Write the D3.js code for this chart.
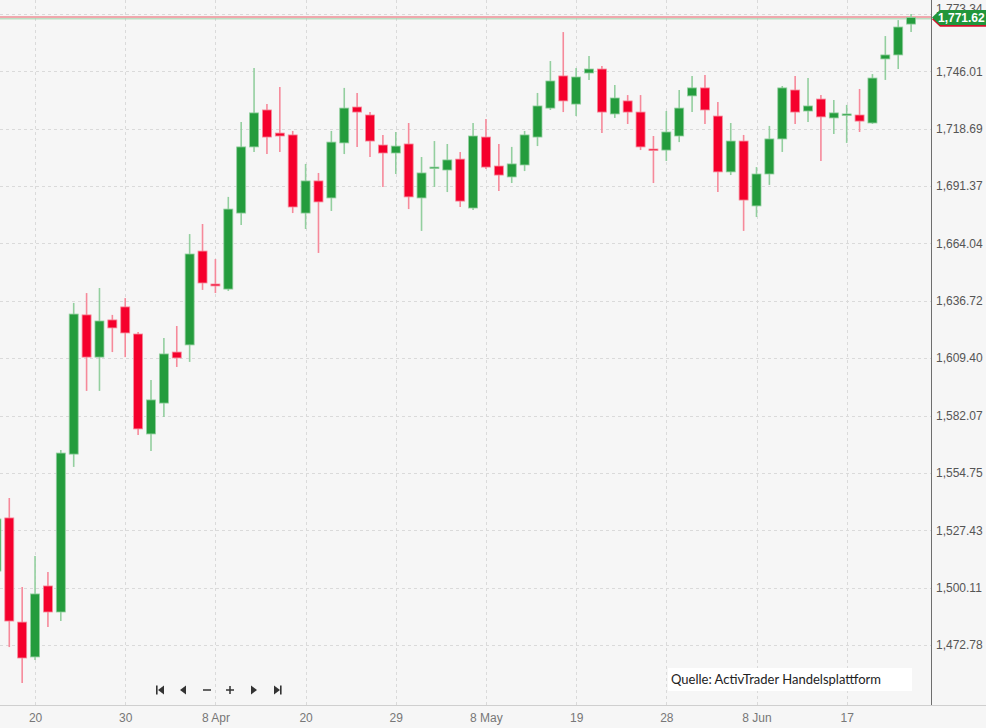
<!DOCTYPE html>
<html><head><meta charset="utf-8">
<script src="https://cdn.jsdelivr.net/npm/d3@7"></script>
<style>html,body{margin:0;padding:0;background:#f6f6f6;overflow:hidden}</style>
</head><body>
<svg id="chart" width="986" height="728"></svg>
<script>
// ---- data (one candle per trading session, index-based) ----
const opens  = [1508.0,1533.3,1483.7,1467.1,1500.9,1488.5,1563.7,1630.0,1609.9,1627.6,1633.8,1620.9,1573.3,1588.0,1612.3,1615.7,1660.4,1644.7,1642.3,1678.5,1710.0,1727.6,1716.6,1715.7,1678.5,1693.8,1685.7,1711.9,1729.0,1725.2,1710.9,1707.1,1711.4,1685.7,1700.0,1699.0,1704.2,1680.9,1714.7,1700.9,1695.7,1701.4,1714.7,1728.5,1743.8,1730.4,1745.2,1747.1,1725.7,1731.9,1726.6,1709.0,1708.5,1715.2,1734.3,1738.1,1724.7,1698.1,1712.8,1681.9,1697.1,1713.8,1737.1,1727.1,1732.8,1723.8,1725.2,1725.2,1721.4,1751.9,1753.8,1768.5];
const highs  = [1539.5,1542.8,1500.4,1515.2,1507.5,1565.7,1635.7,1640.4,1642.8,1630.0,1638.0,1621.9,1599.0,1619.0,1624.7,1668.5,1673.3,1656.6,1686.2,1721.9,1747.6,1730.4,1738.5,1717.6,1701.9,1697.6,1717.6,1738.1,1735.7,1726.6,1715.7,1717.1,1721.4,1705.2,1712.8,1711.4,1707.6,1721.4,1723.3,1711.4,1710.0,1717.6,1735.7,1750.9,1764.7,1747.6,1753.3,1748.5,1739.5,1734.7,1734.7,1715.2,1727.1,1737.1,1743.8,1744.3,1731.4,1721.4,1715.7,1700.4,1720.0,1739.0,1743.8,1742.8,1734.7,1732.3,1730.0,1737.6,1744.7,1762.8,1770.4,1773.3];
const lows   = [1504.7,1471.8,1454.7,1465.6,1481.4,1484.2,1557.6,1593.8,1593.8,1612.3,1609.9,1572.8,1565.2,1581.4,1605.2,1607.6,1641.9,1640.4,1641.4,1672.8,1707.6,1706.6,1707.6,1678.5,1670.9,1659.5,1679.5,1706.6,1710.0,1705.2,1690.9,1697.1,1680.4,1670.0,1690.9,1688.5,1681.4,1680.0,1699.5,1689.0,1692.8,1698.5,1710.4,1727.6,1726.6,1724.7,1741.9,1716.6,1723.8,1720.9,1708.5,1692.8,1703.3,1712.3,1726.6,1720.9,1688.5,1696.6,1670.0,1676.6,1691.9,1707.6,1720.9,1721.9,1703.3,1716.2,1711.9,1717.1,1720.9,1741.9,1747.1,1764.7];
const closes = [1532.8,1484.2,1466.6,1497.1,1488.5,1564.2,1630.4,1609.9,1627.1,1623.8,1621.4,1575.7,1589.5,1611.4,1609.5,1659.0,1645.2,1643.8,1680.4,1710.0,1726.2,1714.7,1715.2,1681.4,1693.8,1683.8,1712.3,1728.5,1726.6,1712.8,1707.1,1710.4,1686.2,1697.6,1700.4,1703.8,1684.2,1715.2,1700.4,1696.6,1701.9,1715.7,1729.5,1741.4,1731.9,1743.3,1747.1,1726.6,1733.3,1726.6,1710.0,1708.5,1717.1,1728.5,1738.1,1727.6,1698.1,1712.8,1684.7,1697.1,1713.8,1738.1,1726.6,1729.5,1724.3,1726.2,1725.7,1722.3,1742.8,1753.8,1767.1,1771.62];
const yTickValues = [1472.78,1500.11,1527.43,1554.75,1582.07,1609.40,1636.72,1664.04,1691.37,1718.69,1746.01,1773.34];
const xTickIndex  = [3,10,17,24,31,38,45,52,59,66];
const xTickLabels = ["20","30","8 Apr","20","29","8 May","19","28","8 Jun","17"];
const lastPrice = 1771.62;
const sourceText = "Quelle: ActivTrader Handelsplattform";

// ---- layout ----
const W = 986, H = 728, plotR = 931, plotB = 705;
const GREEN = "#249c3d", RED = "#f5002c";
const GREEN_W = "#93cf9f", RED_W = "#f6899a";

const svg = d3.select("#chart");
svg.append("rect").attr("width", W).attr("height", H).attr("fill", "#f6f6f6");

const idx = d3.range(opens.length);
const x = d3.scalePoint().domain(idx).range([-3.6, 911.1]);
const y = d3.scaleLinear().domain([1444.21, 1779.97]).range([plotB, 0]);

svg.append("clipPath").attr("id", "clip").append("rect")
  .attr("x", 0).attr("y", 0).attr("width", plotR).attr("height", plotB);

const grid = svg.append("g").attr("clip-path", "url(#clip)");
grid.selectAll("line.h").data(yTickValues).join("line")
  .attr("x1", 0).attr("x2", plotR)
  .attr("y1", d => Math.round(y(d)) + 0.5).attr("y2", d => Math.round(y(d)) + 0.5)
  .attr("stroke", "#dadada").attr("stroke-dasharray", "3,3");
grid.selectAll("line.v").data(xTickIndex).join("line")
  .attr("x1", d => Math.round(x(d)) + 0.5).attr("x2", d => Math.round(x(d)) + 0.5)
  .attr("y1", 0).attr("y2", plotB)
  .attr("stroke", "#dadada").attr("stroke-dasharray", "3,3");

// price lines
const yP = y(lastPrice);
grid.append("line").attr("x1", 0).attr("x2", plotR).attr("y1", yP - 0.5).attr("y2", yP - 0.5)
  .attr("stroke", "#ee8c94").attr("stroke-width", 1.5);
grid.append("line").attr("x1", 0).attr("x2", plotR).attr("y1", yP + 1.3).attr("y2", yP + 1.3)
  .attr("stroke", "#9fd2a8").attr("stroke-width", 1);

// candles
const candles = svg.append("g").attr("clip-path", "url(#clip)");
const cg = candles.selectAll("g.c").data(idx).join("g");
cg.append("line")
  .attr("x1", i => x(i)).attr("x2", i => x(i))
  .attr("y1", i => y(highs[i])).attr("y2", i => y(lows[i]))
  .attr("stroke", i => closes[i] >= opens[i] ? GREEN_W : RED_W)
  .attr("stroke-width", 1.6);
cg.append("rect")
  .attr("x", i => x(i) - 4.5).attr("width", 9)
  .attr("y", i => y(Math.max(opens[i], closes[i])))
  .attr("height", i => Math.max(1.5, Math.abs(y(opens[i]) - y(closes[i]))))
  .attr("fill", i => closes[i] >= opens[i] ? GREEN : RED)
  .attr("stroke", i => closes[i] >= opens[i] ? GREEN_W : RED_W)
  .attr("stroke-width", 0.8);

// axes lines
svg.append("line").attr("x1", 0).attr("x2", W).attr("y1", plotB + 0.5).attr("y2", plotB + 0.5)
  .attr("stroke", "#cfcfcf");
svg.append("line").attr("x1", plotR + 0.5).attr("x2", plotR + 0.5).attr("y1", 0).attr("y2", plotB)
  .attr("stroke", "#6e6e6e");

// y axis labels
const yAxis = d3.axisRight(y).tickValues(yTickValues).tickSize(0).tickPadding(5)
  .tickFormat(d3.format(",.2f"));
const ya = svg.append("g").attr("transform", `translate(${plotR},0)`).call(yAxis);
ya.select(".domain").remove();
ya.selectAll("text").attr("font-family", "'Liberation Sans', Arial, sans-serif")
  .attr("font-size", 12).attr("fill", "#555");
// top label sits partly under the last-price tag, as in the original
ya.selectAll(".tick").filter(d => d === yTickValues[yTickValues.length - 1])
  .select("text").attr("dy", "-0.1em");

// x axis labels
const xAxis = d3.axisBottom(x).tickValues(xTickIndex).tickSize(0).tickPadding(8)
  .tickFormat(d => xTickLabels[xTickIndex.indexOf(d)]);
const xa = svg.append("g").attr("transform", `translate(0,${plotB})`).call(xAxis);
xa.select(".domain").remove();
xa.selectAll("text").attr("font-family", "'Liberation Sans', Arial, sans-serif")
  .attr("font-size", 12).attr("fill", "#777");

// last price label
const lbl = svg.append("g");
const shape = (dy) => `M${plotR + 1},${yP + dy} L${plotR + 9},${yP - 7.5 + dy} L${W},${yP - 7.5 + dy} L${W},${yP + 7.5 + dy} L${plotR + 9},${yP + 7.5 + dy} Z`;
lbl.append("path").attr("d", shape(1.8)).attr("fill", "#d2112d");
lbl.append("path").attr("d", shape(0)).attr("fill", "#21963b");
lbl.append("text").attr("x", plotR + 7).attr("y", yP + 4.5)
  .attr("font-family", "'Liberation Sans', Arial, sans-serif").attr("font-size", 12)
  .attr("font-weight", "bold").attr("fill", "#fff").text(d3.format(",.2f")(lastPrice));

// navigation buttons
const nav = svg.append("g").attr("fill", "#333").attr("stroke", "#333");
const ny = 690;
nav.append("rect").attr("x", 156).attr("y", ny - 4.5).attr("width", 1.6).attr("height", 9).attr("stroke", "none");
nav.append("path").attr("d", `M158,${ny} L164,${ny - 4.5} L164,${ny + 4.5} Z`).attr("stroke", "none");
nav.append("path").attr("d", `M180,${ny} L186,${ny - 4.5} L186,${ny + 4.5} Z`).attr("stroke", "none");
nav.append("line").attr("x1", 203).attr("x2", 211).attr("y1", ny).attr("y2", ny).attr("stroke-width", 1.5);
nav.append("line").attr("x1", 226).attr("x2", 234).attr("y1", ny).attr("y2", ny).attr("stroke-width", 1.5);
nav.append("line").attr("x1", 230).attr("x2", 230).attr("y1", ny - 4).attr("y2", ny + 4).attr("stroke-width", 1.5);
nav.append("path").attr("d", `M251,${ny - 4.5} L257,${ny} L251,${ny + 4.5} Z`).attr("stroke", "none");
nav.append("path").attr("d", `M274,${ny - 4.5} L280,${ny} L274,${ny + 4.5} Z`).attr("stroke", "none");
nav.append("rect").attr("x", 280).attr("y", ny - 4.5).attr("width", 1.6).attr("height", 9).attr("stroke", "none");

// source box
svg.append("rect").attr("x", 668).attr("y", 668).attr("width", 244).attr("height", 23).attr("fill", "#fff");
svg.append("text").attr("x", 671).attr("y", 684)
  .attr("font-family", "Lato, 'Open Sans', sans-serif").attr("font-size", 13)
  .attr("fill", "#222").text(sourceText);
</script>
</body></html>
